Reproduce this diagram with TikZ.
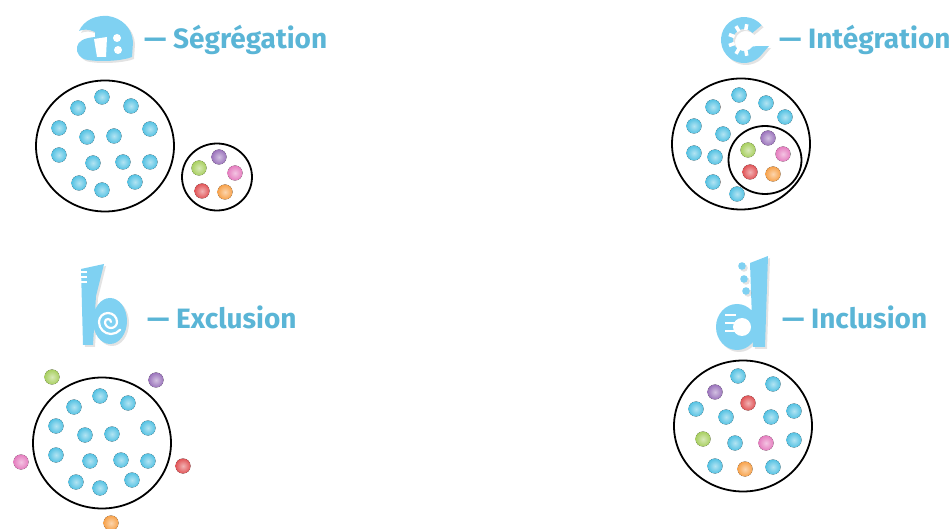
\documentclass[tikz,border=0pt]{standalone}
\usepackage{fontspec}
\setmainfont{Fira Sans}
\usepackage{tikz}
\usetikzlibrary{shadows}
\definecolor{member}{HTML}{55C2E3}
\definecolor{memgreen}{HTML}{A8CF60}
\definecolor{mempurple}{HTML}{9B74BC}
\definecolor{mempink}{HTML}{E57DBF}
\definecolor{memred}{HTML}{E15558}
\definecolor{memorange}{HTML}{F7A24B}
\definecolor{heading}{HTML}{5AB5D6}
\definecolor{glyphblue}{HTML}{7FD1F2}
\tikzset{
  marble/.style={inner color=#1!45!white, outer color=#1},
  glyph/.style={fill=glyphblue, drop shadow={opacity=0.22, shadow xshift=2pt, shadow yshift=-2pt}},
  heading/.style={anchor=base west, inner sep=0pt, text=heading, font=\fontsize{28}{30}\selectfont\bfseries},
  ring/.style={draw=black, line width=1.8pt}
}
\newcommand\marbles[2]{\foreach \mx/\my in {#2} \fill[marble=#1] (\mx,\my) circle (7.5);}

\begin{document}
\begin{tikzpicture}[x=1pt, y=-1pt]
\useasboundingbox (0,0) rectangle (951,529);
% a -- segregation
\fill[glyph] (79,31) .. controls (84,20) and (96,15) .. (108,16) .. controls (122,18) and (132,28) .. (133,42) -- (132,57) .. controls (122,61) and (100,62) .. (88,60) .. controls (80,59) and (76,53) .. (77,47) .. controls (78,41) and (84,38) .. (95,37) -- (95,32) .. controls (89,29) and (83,29) .. (79,31) -- cycle;
\fill[white] (94,39) -- (107,37) -- (106,57) -- (97,57) -- cycle;
\fill[white] (117,38) circle (4) (118,50) circle (4);
\node[heading] (segText) at (144,49) {— Ségrégation};
\draw[ring] (105,146) ellipse [x radius=69, y radius=65.5];
\marbles{member}{102/97, 78/108, 131/106, 59/128, 87/137, 114/136, 150/129, 59/155, 93/163, 123/162, 150/162, 79/183, 102/190, 135/182}
\draw[ring] (217,177) ellipse [x radius=35, y radius=33.5];
\marbles{mempurple}{219/157} \marbles{memgreen}{199/168} \marbles{mempink}{235/173} \marbles{memred}{202/191} \marbles{memorange}{225/192}
% b -- exclusion
\fill[glyph] (81,269) -- (104,264) -- (96,296) -- (93,345) -- (83,345) -- cycle (110,321) ellipse [x radius=17, y radius=23];
\foreach \y in {272,277,282} \draw[white, line width=1.8pt] (79,\y) -- (87,\y);
\draw[white, line width=2.2pt, line cap=round] (111,322) arc[start angle=0, end angle=-180, radius=3] arc[start angle=180, end angle=0, radius=6] arc[start angle=0, end angle=-180, radius=9] arc[start angle=180, end angle=40, radius=12];
\node[heading] (excText) at (147,329) {— Exclusion};
\draw[ring] (102,443) ellipse [x radius=69, y radius=65.5];
\marbles{member}{100/396, 74/407, 128/403, 56/426, 85/435, 112/434, 148/428, 56/455, 90/461, 121/460, 148/461, 76/482, 100/488, 132/480}
\marbles{memgreen}{52/377} \marbles{mempurple}{156/380} \marbles{mempink}{21/462} \marbles{memred}{183/466} \marbles{memorange}{111/523}
% c -- integration
\fill[glyph] (744,40) ++(-40:23) arc[start angle=-40, end angle=-325, radius=23] -- (769,46) -- (753,46.3) arc[start angle=-325, end angle=-40, radius=11] -- cycle;
\foreach \t in {-80,-120,-160,-200,-240,-280} \draw[white, line width=3.5pt] (744,40) ++(\t:10) -- ++(\t:6);
\node[heading] (intText) at (779,49) {— Intégration};
\draw[ring] (741,144) ellipse [x radius=69, y radius=65.5];
\marbles{member}{739/95, 713/107, 766/103, 743/117, 785/117, 694/126, 723/134, 694/153, 715/157, 713/182, 737/194}
\draw[ring] (765,160) ellipse [x radius=36.5, y radius=34];
\marbles{mempurple}{768/138} \marbles{memgreen}{748/150} \marbles{mempink}{783/154} \marbles{memred}{750/172} \marbles{memorange}{773/174}
% d -- inclusion
\fill[glyph] (750,263) -- (768,256) -- (765,347) -- (753,347) -- cycle (737,327) ellipse [x radius=21, y radius=23];
\fill[glyph] (742,266) circle (3.8) (744,279) circle (3.8) (746,291) circle (3.8);
\fill[white] (742,327) circle (9);
\foreach \y in {315,323,331} \draw[white, line width=2.5pt] (725,\y) -- (736,\y);
\node[heading] (incText) at (782,329) {— Inclusion};
\draw[ring] (743,426) ellipse [x radius=69, y radius=65.5];
\marbles{member}{738/376, 773/384, 696/409, 726/417, 771/417, 794/411, 735/443, 794/440, 715/466, 773/467}
\marbles{mempurple}{715/392} \marbles{memred}{748/403} \marbles{memgreen}{703/439} \marbles{mempink}{766/443} \marbles{memorange}{745/469}
\end{tikzpicture}
\end{document}
